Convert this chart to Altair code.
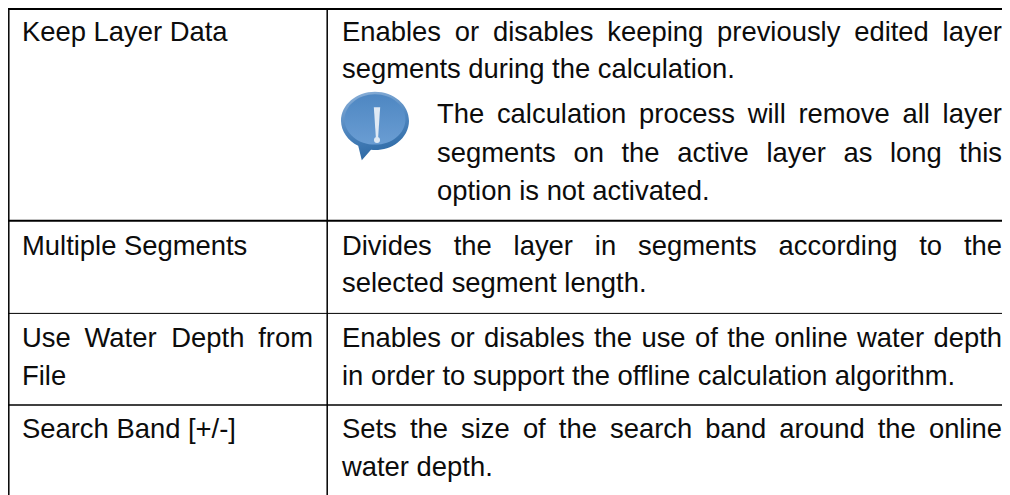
import altair as alt
import pandas as pd

# Table grid (image pixels)
heavy_rows = [9, 220.8]
medium_rows = [405.0]
thin_rows = [313.4]
column_rules = [8.8, 327.2]
grid_left = 8
grid_right = 1002
grid_bottom = 495

# Text lines that keep normal spacing
plain_y = [41, 255, 385, 438, 78, 292, 385, 476, 200]
plain_x = [22, 22, 22, 22, 342, 342, 342, 342, 437]
plain_text = [
    "Keep Layer Data",
    "Multiple Segments",
    "File",
    "Search Band [+/-]",
    "segments during the calculation.",
    "selected segment length.",
    "in order to support the offline calculation algorithm.",
    "water depth.",
    "option is not activated.",
]

# Justified lines: baseline, left edge, right edge, words
just_y = [41, 123, 162, 255, 347, 347, 438]
just_left = [342, 437, 437, 342, 22, 342, 342]
just_right = [1002, 1002, 1002, 1002, 313, 1002, 1002]
just_words = [
    ["Enables", "or", "disables", "keeping", "previously", "edited", "layer"],
    ["The", "calculation", "process", "will", "remove", "all", "layer"],
    ["segments", "on", "the", "active", "layer", "as", "long", "this"],
    ["Divides", "the", "layer", "in", "segments", "according", "to", "the"],
    ["Use", "Water", "Depth", "from"],
    ["Enables", "or", "disables", "the", "use", "of", "the", "online", "water", "depth"],
    ["Sets", "the", "size", "of", "the", "search", "band", "around", "the", "online"],
]

# Note icon
icon_x = [375]
icon_y = [121]
bang_x = [377]
bang_y = [123]
dot_y = [140]

FONT = "Liberation Sans"
SIZE = 27.4
INK = "#0c0c0c"

ADV = {"a": 556, "b": 556, "c": 500, "d": 556, "e": 556, "f": 278, "g": 556, "h": 556,
       "i": 222, "k": 500, "l": 222, "m": 833, "n": 556, "o": 556, "p": 556, "r": 333,
       "s": 500, "t": 278, "u": 556, "v": 500, "w": 722, "y": 500, "z": 500, "D": 722,
       "E": 667, "S": 667, "T": 611, "U": 722, "W": 944}


def word_width(w):
    return sum(ADV[c] for c in w) / 1000 * SIZE


def justified(left, right, words):
    widths = [word_width(w) for w in words]
    gap = (right - left - sum(widths)) / (len(words) - 1)
    xs, x = [], left
    for wd in widths:
        xs.append(x)
        x += wd + gap
    return xs


x_scale = alt.Scale(domain=[8, 1002], range=[0, 994], nice=False, zero=False)
y_scale = alt.Scale(domain=[8, 495], range=[0, 487], nice=False, zero=False)
X = lambda f: alt.X(f, type="quantitative", scale=x_scale, axis=None)
Y = lambda f: alt.Y(f, type="quantitative", scale=y_scale, axis=None)


def h_rules(rows, width):
    df = pd.DataFrame({"y": rows, "x": [grid_left] * len(rows), "x2": [grid_right] * len(rows)})
    return alt.Chart(df).mark_rule(color="#000000", strokeWidth=width).encode(
        x=X("x"), x2="x2", y=Y("y")
    )


v_df = pd.DataFrame({"x": column_rules, "y": [8] * 2, "y2": [grid_bottom] * 2})
v_rules = alt.Chart(v_df).mark_rule(color="#000000", strokeWidth=1.5).encode(
    x=X("x"), y=Y("y"), y2="y2"
)

rows = [{"x": x, "y": y, "t": t} for x, y, t in zip(plain_x, plain_y, plain_text)]
for y, l, r, words in zip(just_y, just_left, just_right, just_words):
    rows += [{"x": x, "y": y, "t": w} for x, w in zip(justified(l, r, words), words)]

text = alt.Chart(pd.DataFrame(rows)).mark_text(
    font=FONT, fontSize=SIZE, color=INK, align="left", baseline="alphabetic"
).encode(x=X("x"), y=Y("y"), text="t:N")

icon_df = pd.DataFrame({"x": icon_x, "y": icon_y})
BODY = (
    "M-0.85,0 A0.85,0.73,0,1,1,0.85,0 A0.85,0.73,0,0,1,-0.1,0.72 "
    "L-0.33,0.98 L-0.42,0.62 A0.85,0.73,0,0,1,-0.85,0 Z"
)
body = alt.Chart(icon_df).mark_point(
    shape=BODY, size=6400, filled=True, opacity=1, strokeWidth=0,
    fill=alt.Gradient(
        gradient="linear", x1=0, y1=0, x2=0.25, y2=1,
        stops=[
            alt.GradientStop(offset=0, color="#8fb3da"),
            alt.GradientStop(offset=0.55, color="#4f86bf"),
            alt.GradientStop(offset=1, color="#2f6ba6"),
        ],
    ),
).encode(x=X("x"), y=Y("y"))
INNER = "M-0.76,-0.04 A0.76,0.63,0,1,1,0.76,-0.04 A0.76,0.63,0,1,1,-0.76,-0.04 Z"
inner = alt.Chart(icon_df).mark_point(
    shape=INNER, size=6400, filled=True, opacity=1, strokeWidth=0,
    fill=alt.Gradient(
        gradient="linear", x1=0, y1=0, x2=0, y2=1,
        stops=[
            alt.GradientStop(offset=0, color="#4e87c2"),
            alt.GradientStop(offset=1, color="#6a9dd3"),
        ],
    ),
).encode(x=X("x"), y=Y("y"))
bang_df = pd.DataFrame({"x": bang_x, "y": bang_y, "d": dot_y})
bang = alt.Chart(bang_df).mark_point(
    shape="M-0.2,-1 L0.2,-1 L0.07,0.95 L-0.07,0.95 Z", size=1000, filled=True,
    opacity=1, strokeWidth=0, fill="#dfe9f4",
).encode(x=X("x"), y=Y("y"))
dot = alt.Chart(bang_df).mark_point(
    shape="circle", size=36, filled=True, opacity=1, strokeWidth=0, fill="#dfe9f4",
).encode(x=X("x"), y=Y("d"))

chart = alt.layer(
    h_rules(heavy_rows, 2), h_rules(medium_rows, 1.6), h_rules(thin_rows, 1),
    v_rules, body, inner, bang, dot, text,
).properties(
    width=994, height=487, padding=0, autosize=alt.AutoSizeParams(type="none"),
    background="#ffffff",
).configure_view(stroke=None)

chart.save("out.html", embed_options={"renderer": "svg", "actions": False})
